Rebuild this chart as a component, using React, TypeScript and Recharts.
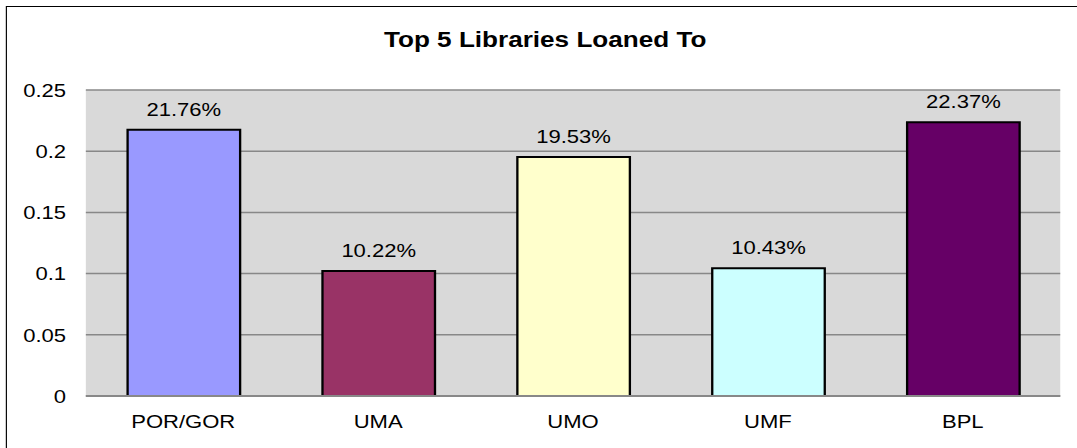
import {
  BarChart,
  Bar,
  XAxis,
  YAxis,
  CartesianGrid,
  ReferenceLine,
  LabelList,
  Cell,
} from "recharts";

const libraries = ["POR/GOR", "UMA", "UMO", "UMF", "BPL"];
const shares = [0.2176, 0.1022, 0.1953, 0.1043, 0.2237];
const barColors = ["#9999FF", "#993366", "#FFFFCC", "#CCFFFF", "#660066"];
const yTicks = [0, 0.05, 0.1, 0.15, 0.2, 0.25];

const data = libraries.map((name, i) => ({ name, value: shares[i] }));

// the picture is a bit wider than tall fonts would suggest, so stretch horizontally
const stretch = 1.16;
const chartW = 940;
const chartH = 448;

const pct = (v: any) => (Number(v) * 100).toFixed(2) + "%";

const App = () => {
  return (
    <div
      style={{
        position: "fixed",
        left: 0,
        top: 0,
        width: 1077,
        height: 448,
        overflow: "hidden",
        background: "#fff",
        fontFamily: "'Liberation Sans', Arial, sans-serif",
      }}
    >
      <div
        style={{
          position: "relative",
          width: chartW,
          height: chartH,
          transform: `scaleX(${stretch})`,
          transformOrigin: "0 0",
        }}
      >
        <div
          style={{
            position: "absolute",
            left: 5,
            top: 6,
            width: 2000,
            height: 1000,
            border: "1px solid #000",
          }}
        />
        <div
          style={{
            position: "absolute",
            left: 0,
            top: 29,
            width: chartW,
            textAlign: "center",
            fontWeight: "bold",
            fontSize: 22.5,
            lineHeight: "22.5px",
            color: "#000",
          }}
        >
          Top 5 Libraries Loaned To
        </div>
        <BarChart
          width={chartW}
          height={chartH}
          data={data}
          margin={{ top: 90, right: 26, bottom: 0, left: 0 }}
          style={{ position: "absolute", left: 0, top: 0 }}
        >
          <CartesianGrid
            vertical={false}
            fill="#D9D9D9"
            stroke="#888888"
            strokeWidth={1.5}
          />
          <XAxis
            dataKey="name"
            height={52}
            axisLine={false}
            tickLine={false}
            tickSize={0}
            tickMargin={19}
            tick={{ fill: "#000", fontSize: 19 }}
          />
          <YAxis
            width={74}
            domain={[0, 0.25]}
            ticks={yTicks}
            axisLine={false}
            tickLine={false}
            tickSize={0}
            tickMargin={17}
            tick={{ fill: "#000", fontSize: 19 }}
          />
          <Bar
            dataKey="value"
            barSize={97}
            stroke="#000"
            strokeWidth={2}
            isAnimationActive={false}
          >
            {data.map((d, i) => (
              <Cell key={d.name} fill={barColors[i]} />
            ))}
            <LabelList
              dataKey="value"
              position="top"
              offset={14}
              formatter={pct}
              fill="#000"
              fontSize={19}
            />
          </Bar>
          <ReferenceLine y={0} stroke="#888888" strokeWidth={2} />
        </BarChart>
      </div>
    </div>
  );
};

export default App;
